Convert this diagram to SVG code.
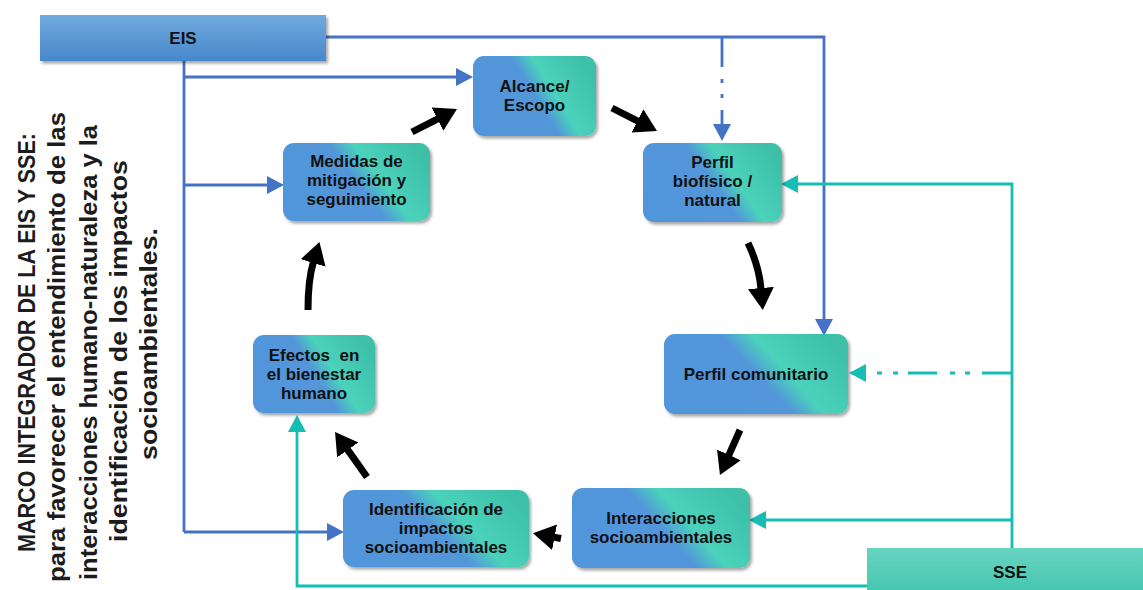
<svg xmlns="http://www.w3.org/2000/svg" width="1143" height="590" viewBox="0 0 1143 590">
  <defs>
    <linearGradient id="nodeFill" x1="0" y1="0.7" x2="1" y2="0.3">
      <stop offset="0" stop-color="#5195da"/>
      <stop offset="0.5" stop-color="#5296da"/>
      <stop offset="0.65" stop-color="#4bd2bb"/>
      <stop offset="1" stop-color="#3dbfa8"/>
    </linearGradient>
    <linearGradient id="eisFill" x1="0" y1="0" x2="0" y2="1">
      <stop offset="0" stop-color="#70aade"/>
      <stop offset="1" stop-color="#4887cb"/>
    </linearGradient>
    <linearGradient id="sseFill" x1="0" y1="0" x2="0" y2="1">
      <stop offset="0" stop-color="#68d4c2"/>
      <stop offset="1" stop-color="#40c5ac"/>
    </linearGradient>
    <filter id="shadow" x="-10%" y="-10%" width="125%" height="130%">
      <feDropShadow dx="2" dy="2.5" stdDeviation="1.6" flood-color="#000" flood-opacity="0.35"/>
    </filter>
    <marker id="blueHead" markerUnits="userSpaceOnUse" markerWidth="17" markerHeight="18" refX="1" refY="9" orient="auto">
      <path d="M0,0 L17,9 L0,18 z" fill="#4472c4"/>
    </marker>
    <marker id="tealHead" markerUnits="userSpaceOnUse" markerWidth="17" markerHeight="18" refX="1" refY="9" orient="auto">
      <path d="M0,0 L17,9 L0,18 z" fill="#15bdb3"/>
    </marker>
    <marker id="blackHead" markerUnits="userSpaceOnUse" markerWidth="22" markerHeight="26" refX="1" refY="13" orient="auto">
      <path d="M0,0 L22,13 L0,26 z" fill="#000"/>
    </marker>
  </defs>
  <style>
    .node rect { fill: url(#nodeFill); filter: url(#shadow); }
    .label { font-family: "Liberation Sans", Arial, sans-serif; font-weight: bold; font-size: 17px; fill: #111; text-anchor: middle; }
    .title { font-family: "Liberation Sans", Arial, sans-serif; font-weight: bold; font-size: 24px; fill: #1c1c1c; text-anchor: middle; }
    .blue { fill: none; stroke: #4472c4; stroke-width: 2.8; }
    .teal { fill: none; stroke: #15bdb3; stroke-width: 2.8; }
    .flow { fill: none; stroke: #000; stroke-width: 7; }
  </style>

  <rect width="1143" height="590" fill="#fff"/>

  <!-- vertical title -->
  <g id="title" transform="translate(0,347) rotate(-90)">
    <text class="title" x="4.5" y="35" textLength="419" lengthAdjust="spacingAndGlyphs">MARCO INTEGRADOR DE LA EIS Y SSE:</text>
    <text class="title" x="0" y="65" textLength="470" lengthAdjust="spacingAndGlyphs">para favorecer el entendimiento de las</text>
    <text class="title" x="-5.5" y="97" textLength="455" lengthAdjust="spacingAndGlyphs">interacciones humano-naturaleza y la</text>
    <text class="title" x="-4" y="127" textLength="382" lengthAdjust="spacingAndGlyphs">identificación de los impactos</text>
    <text class="title" x="3" y="157" textLength="232" lengthAdjust="spacingAndGlyphs">socioambientales.</text>
  </g>

  <!-- connectors -->
  <g id="connectors">
    <!-- EIS trunk and branches -->
    <path class="blue" d="M184 61 V532"/>
    <path class="blue" d="M184 77 H457" marker-end="url(#blueHead)"/>
    <path class="blue" d="M184 185 H268" marker-end="url(#blueHead)"/>
    <path class="blue" d="M184 532 H328" marker-end="url(#blueHead)"/>
    <path class="blue" d="M326 37 H824 V320" marker-end="url(#blueHead)"/>
    <path class="blue" d="M722 37 V125" stroke-dasharray="30 12 4 11 4 12 60" marker-end="url(#blueHead)"/>

    <!-- SSE branches -->
    <path class="teal" d="M1012 548 V184 H797" marker-end="url(#tealHead)"/>
    <path class="teal" d="M1012 520 H765" marker-end="url(#tealHead)"/>
    <path class="teal" d="M1012 373 H865" stroke-dasharray="30 12 5 10 5 13 29 10 5 11 5 12" marker-end="url(#tealHead)"/>
    <path class="teal" d="M867 586 H297 V431" marker-end="url(#tealHead)"/>

    <!-- cycle arrows -->
    <path class="flow" d="M412 132 L438.3 118.6" marker-end="url(#blackHead)"/>
    <path class="flow" d="M612 108 L638.3 121.4" marker-end="url(#blackHead)"/>
    <path class="flow" d="M748 243 Q759 266 761 289" marker-end="url(#blackHead)"/>
    <path class="flow" d="M740 430 L728.5 455.8" marker-end="url(#blackHead)"/>
    <path class="flow" d="M561 538.5 L553.6 537.1" marker-end="url(#blackHead)"/>
    <path class="flow" d="M367 477 L347.2 449.1" marker-end="url(#blackHead)"/>
    <path class="flow" d="M308 310 Q308 280 313.4 262" marker-end="url(#blackHead)"/>
  </g>

  <!-- source boxes -->
  <g id="eis">
    <rect x="40" y="15" width="286" height="46" fill="url(#eisFill)" filter="url(#shadow)"/>
    <text class="label" x="183" y="44">EIS</text>
  </g>
  <g id="sse">
    <rect x="867" y="548" width="290" height="50" fill="url(#sseFill)" filter="url(#shadow)"/>
    <text class="label" x="1010" y="578">SSE</text>
  </g>

  <!-- cycle nodes -->
  <g id="alcance" class="node">
    <rect x="473" y="56" width="123" height="80" rx="11"/>
    <text class="label" x="534.5" y="92">Alcance/</text>
    <text class="label" x="534.5" y="111">Escopo</text>
  </g>
  <g id="perfil-biofisico" class="node">
    <rect x="643" y="143" width="139" height="79" rx="11"/>
    <text class="label" x="712.5" y="168">Perfil</text>
    <text class="label" x="712.5" y="187">biofísico /</text>
    <text class="label" x="712.5" y="206">natural</text>
  </g>
  <g id="perfil-comunitario" class="node">
    <rect x="664" y="334" width="184" height="80" rx="11"/>
    <text class="label" x="756" y="380">Perfil comunitario</text>
  </g>
  <g id="interacciones" class="node">
    <rect x="572" y="488" width="178" height="80" rx="11"/>
    <text class="label" x="661" y="524">Interacciones</text>
    <text class="label" x="661" y="543">socioambientales</text>
  </g>
  <g id="identificacion" class="node">
    <rect x="343" y="490" width="186" height="77" rx="11"/>
    <text class="label" x="436" y="515">Identificación de</text>
    <text class="label" x="436" y="534">impactos</text>
    <text class="label" x="436" y="553">socioambientales</text>
  </g>
  <g id="efectos" class="node">
    <rect x="253" y="335" width="122" height="78" rx="11"/>
    <text class="label" x="314" y="361" xml:space="preserve">Efectos  en</text>
    <text class="label" x="314" y="380">el bienestar</text>
    <text class="label" x="314" y="399">humano</text>
  </g>
  <g id="medidas" class="node">
    <rect x="283" y="143" width="147" height="78" rx="11"/>
    <text class="label" x="356.5" y="167">Medidas de</text>
    <text class="label" x="356.5" y="186">mitigación y</text>
    <text class="label" x="356.5" y="205">seguimiento</text>
  </g>
</svg>
